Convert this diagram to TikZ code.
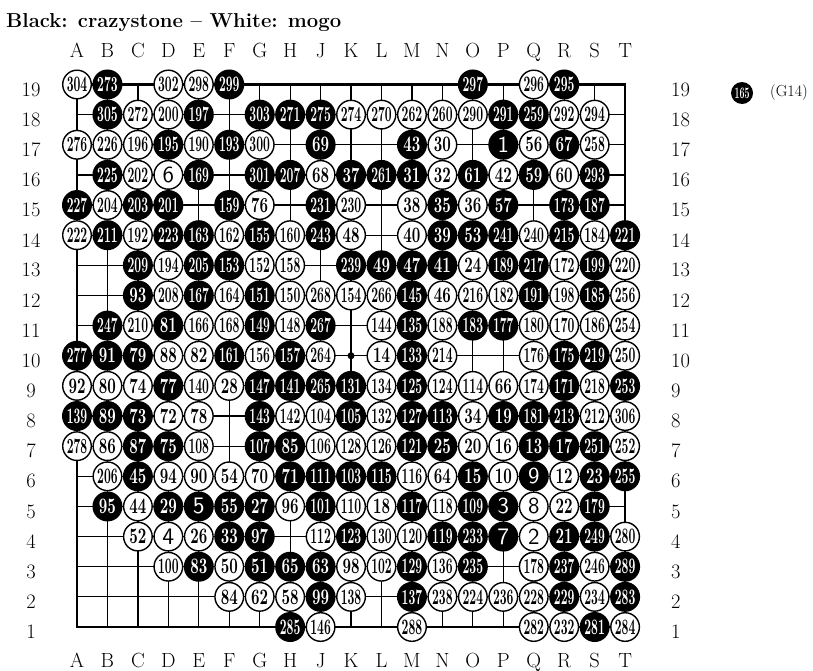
\documentclass[tikz,border=0pt]{standalone}
\usepackage{graphicx}
\newcommand{\stonenum}[1]{%
 \ifnum#1>99\relax\resizebox{20.5pt}{14.5pt}{\bfseries #1}%
 \else\ifnum#1>9\relax\resizebox{17pt}{14.5pt}{\bfseries #1}%
 \else\resizebox{!}{15.5pt}{\sffamily #1}\fi\fi}
\tikzset{
 stone/.style={circle, inner sep=0pt, outer sep=0pt},
 bstone/.style={stone, fill=black, minimum size=30pt, text=white},
 wstone/.style={stone, fill=white, draw=black, line width=1.4pt, minimum size=28.6pt},
 gridline/.style={line width=1.2pt},
 border/.style={line width=2.2pt},
 lab/.style={inner sep=0pt, font=\fontsize{20.5}{24}\selectfont},
}
\begin{document}
\begin{tikzpicture}[x=1pt,y=-1pt]
\useasboundingbox (0,0) rectangle (813,670);
% title
\node[anchor=base west, inner sep=0pt] (title) at (6,27)
  {\resizebox{335pt}{14pt}{\fontsize{20}{24}\selectfont\bfseries Black: crazystone -- White: mogo}};
% grid
\foreach \i in {1,...,19} {
  \draw[gridline] ({77+(\i-1)*30.45},627) -- ({77+(\i-1)*30.45},84.48);
  \draw[gridline] (77,{627-(\i-1)*30.14}) -- (625.1,{627-(\i-1)*30.14});
}
\draw[border] (77,84.48) rectangle (625.1,627);
\node[circle, fill=black, minimum size=7pt, inner sep=0pt] (hoshi) at ({77+9*30.45},{627-9*30.14}) {};
% coordinates labels
\foreach \l [count=\i] in {A,B,C,D,E,F,G,H,J,K,L,M,N,O,P,Q,R,S,T} {
  \node[lab, anchor=base] (top\l) at ({77+(\i-1)*30.45},57) {\l};
  \node[lab, anchor=base] (bot\l) at ({77+(\i-1)*30.45},667) {\l};
}
\foreach \r in {1,...,19} {
  \node[lab] (left\r) at (31,{627-(\r-1)*30.14+5}) {\r};
  \node[lab, anchor=west] (right\r) at (671,{627-(\r-1)*30.14+5}) {\r};
}
% black stones
\foreach \c/\r/\n in {
 2/19/273, 6/19/299, 14/19/297, 17/19/295,
 2/18/305, 5/18/197, 7/18/303, 8/18/271, 9/18/275, 15/18/291, 16/18/259,
 4/17/195, 6/17/193, 9/17/69, 12/17/43, 15/17/1, 17/17/67,
 2/16/225, 5/16/169, 7/16/301, 8/16/207, 10/16/37, 11/16/261, 12/16/31, 14/16/61, 16/16/59, 18/16/293,
 1/15/227, 3/15/203, 4/15/201, 6/15/159, 9/15/231, 13/15/35, 15/15/57, 17/15/173, 18/15/187,
 2/14/211, 4/14/223, 5/14/163, 7/14/155, 9/14/243, 13/14/39, 14/14/53, 15/14/241, 17/14/215, 19/14/221,
 3/13/209, 5/13/205, 6/13/153, 10/13/239, 11/13/49, 12/13/47, 13/13/41, 15/13/189, 16/13/217, 18/13/199,
 3/12/93, 5/12/167, 7/12/151, 12/12/145, 16/12/191, 18/12/185,
 2/11/247, 4/11/81, 7/11/149, 9/11/267, 12/11/135, 14/11/183, 15/11/177,
 1/10/277, 2/10/91, 3/10/79, 6/10/161, 8/10/157, 12/10/133, 17/10/175, 18/10/219,
 4/9/77, 7/9/147, 8/9/141, 9/9/265, 10/9/131, 12/9/125, 17/9/171, 19/9/253,
 1/8/139, 2/8/89, 3/8/73, 7/8/143, 10/8/105, 12/8/127, 13/8/113, 15/8/19, 16/8/181, 17/8/213,
 3/7/87, 4/7/75, 7/7/107, 8/7/85, 12/7/121, 13/7/25, 16/7/13, 17/7/17, 18/7/251,
 3/6/45, 8/6/71, 9/6/111, 10/6/103, 11/6/115, 14/6/15, 16/6/9, 18/6/23, 19/6/255,
 2/5/95, 4/5/29, 5/5/5, 6/5/55, 7/5/27, 9/5/101, 12/5/117, 14/5/109, 15/5/3, 18/5/179,
 6/4/33, 7/4/97, 10/4/123, 13/4/119, 14/4/233, 15/4/7, 17/4/21, 18/4/249,
 5/3/83, 7/3/51, 8/3/65, 9/3/63, 12/3/129, 14/3/235, 16/3/11, 17/3/237, 19/3/289,
 9/2/99, 12/2/137, 17/2/229, 19/2/283,
 8/1/285, 18/1/281} {
  \node[bstone] (b\n) at ({77+(\c-1)*30.45},{627-(\r-1)*30.14}) {\stonenum{\n}};
}
% white stones
\foreach \c/\r/\n in {
 1/19/304, 4/19/302, 5/19/298, 16/19/296,
 3/18/272, 4/18/200, 10/18/274, 11/18/270, 12/18/262, 13/18/260, 14/18/290, 17/18/292, 18/18/294,
 1/17/276, 2/17/226, 3/17/196, 5/17/190, 7/17/300, 13/17/30, 16/17/56, 18/17/258,
 3/16/202, 4/16/6, 9/16/68, 13/16/32, 15/16/42, 17/16/60,
 2/15/204, 7/15/76, 10/15/230, 12/15/38, 14/15/36,
 1/14/222, 3/14/192, 6/14/162, 8/14/160, 10/14/48, 12/14/40, 16/14/240, 18/14/184,
 4/13/194, 7/13/152, 8/13/158, 14/13/24, 17/13/172, 19/13/220,
 4/12/208, 6/12/164, 8/12/150, 9/12/268, 10/12/154, 11/12/266, 13/12/46, 14/12/216, 15/12/182, 17/12/198, 19/12/256,
 3/11/210, 5/11/166, 6/11/168, 8/11/148, 11/11/144, 13/11/188, 16/11/180, 17/11/170, 18/11/186, 19/11/254,
 4/10/88, 5/10/82, 7/10/156, 9/10/264, 11/10/14, 13/10/214, 16/10/176, 19/10/250,
 1/9/92, 2/9/80, 3/9/74, 5/9/140, 6/9/28, 11/9/134, 13/9/124, 14/9/114, 15/9/66, 16/9/174, 18/9/218,
 4/8/72, 5/8/78, 8/8/142, 9/8/104, 11/8/132, 14/8/34, 18/8/212, 19/8/306,
 1/7/278, 2/7/86, 5/7/108, 9/7/106, 10/7/128, 11/7/126, 14/7/20, 15/7/16, 19/7/252,
 2/6/206, 4/6/94, 5/6/90, 6/6/54, 7/6/70, 12/6/116, 13/6/64, 15/6/10, 17/6/12,
 3/5/44, 8/5/96, 10/5/110, 11/5/18, 13/5/118, 16/5/8, 17/5/22,
 3/4/52, 4/4/4, 5/4/26, 9/4/112, 11/4/130, 12/4/120, 16/4/2, 19/4/280,
 4/3/100, 6/3/50, 10/3/98, 11/3/102, 13/3/136, 16/3/178, 18/3/246,
 6/2/84, 7/2/62, 8/2/58, 10/2/138, 13/2/238, 14/2/224, 15/2/236, 16/2/228, 18/2/234,
 9/1/146, 12/1/288, 16/1/282, 17/1/232, 19/1/284} {
  \node[wstone] (w\n) at ({77+(\c-1)*30.45},{627-(\r-1)*30.14}) {\stonenum{\n}};
}
% side note
\node[bstone, minimum size=22pt] (b165) at (742,93) {\resizebox{15pt}{10.5pt}{\bfseries 165}};
\node[anchor=west, inner sep=0pt, font=\fontsize{16}{19}\selectfont] (g14) at (770,93) {(G14)};
\end{tikzpicture}
\end{document}
